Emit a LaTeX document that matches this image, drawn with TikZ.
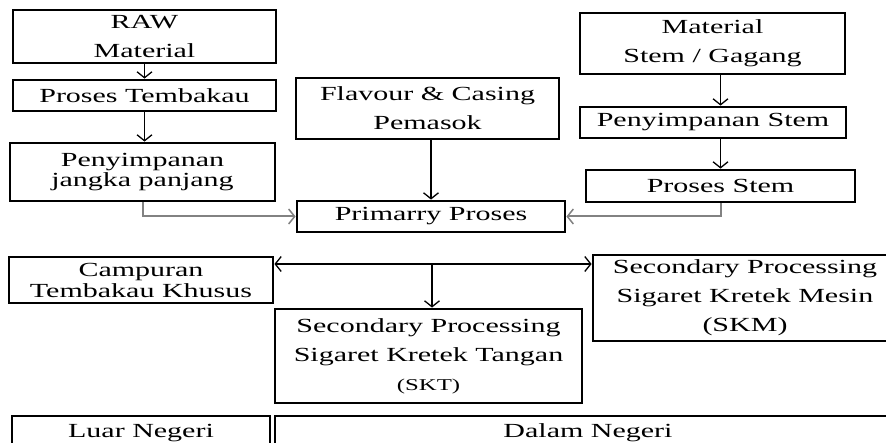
\documentclass[tikz,border=0pt]{standalone}
\usepackage{fontspec}
\setmainfont{Liberation Serif}[FakeStretch=1.5]
\usetikzlibrary{arrows.meta}
\definecolor{linkgray}{RGB}{130,130,130}

\begin{document}
\begin{tikzpicture}[x=1pt, y=-1pt,
  box/.style={draw=black, line width=2.8pt, fill=white, inner sep=0pt, align=center,
    font=\fontsize{20}{29}\selectfont},
  flow/.style={draw=black, line width=1.3pt,
    -{Straight Barb[length=6pt, width=15pt, line width=1.3pt]}},
  grayflow/.style={draw=linkgray, line width=2pt,
    -{Straight Barb[length=6pt, width=15pt, line width=1.5pt]}}]
\clip (0,0) rectangle (886,443);
\fill[white] (0,0) rectangle (886,443);

% tembakau column
\node[box, minimum width=263, minimum height=53] (raw) at (144.5,36.5) {RAW\\Material};
\node[box, minimum width=263, minimum height=31] (tembakau) at (144.5,95.5) {Proses Tembakau};
\node[box, minimum width=265, minimum height=58] (simpan) at (142.5,172) {Penyimpanan\\[-9pt]jangka panjang};

% middle column
\node[box, minimum width=263, minimum height=61] (flavour) at (427.5,108.5) {Flavour \& Casing\\Pemasok};
\node[box, minimum width=268, minimum height=31] (primer) at (431,216.5) {Primarry Proses};

% stem column
\node[box, minimum width=265, minimum height=61] (matstem) at (712.5,43.5) {Material\\Stem / Gagang};
\node[box, minimum width=266, minimum height=31] (simpanstem) at (713,122.5) {Penyimpanan Stem};
\node[box, minimum width=269, minimum height=32] (prosesstem) at (720.5,186) {Proses Stem};

% secondary
\node[box, minimum width=264, minimum height=46] (campuran) at (141,280) {Campuran\\[-8pt]Tembakau Khusus};
\node[box, minimum width=307, minimum height=94] (skt) at (428.5,356) {Secondary Processing\\Sigaret Kretek Tangan\\{\fontsize{16.5}{20}\selectfont (SKT)}};
\node[box, minimum width=304, minimum height=86] (skm) at (745,298) {Secondary Processing\\Sigaret Kretek Mesin\\(SKM)};

% pasar
\node[box, minimum width=258, minimum height=34] (luar) at (141,433) {Luar Negeri};
\node[box, minimum width=626, minimum height=34] (dalam) at (588,433) {Dalam Negeri};

% connectors
\draw[flow] (raw) -- (tembakau);
\draw[flow] (tembakau.south) -- (tembakau.south |- simpan.north);
\draw[grayflow] (simpan.south) |- (primer.west);
\draw[flow] (primer.north |- flavour.south) -- (primer.north);
\draw[flow] (matstem.south -| prosesstem.north) -- (simpanstem.north -| prosesstem.north);
\draw[flow] (simpanstem.south -| prosesstem.north) -- (prosesstem.north);
\draw[grayflow] (prosesstem.south) |- (primer.east);
\coordinate (fork) at (432,264);
\draw[flow] (fork) -- (campuran.east |- fork);
\draw[flow] (fork) -- (skm.west |- fork);
\draw[flow] (fork) -- (fork |- skt.north);
\end{tikzpicture}
\end{document}
